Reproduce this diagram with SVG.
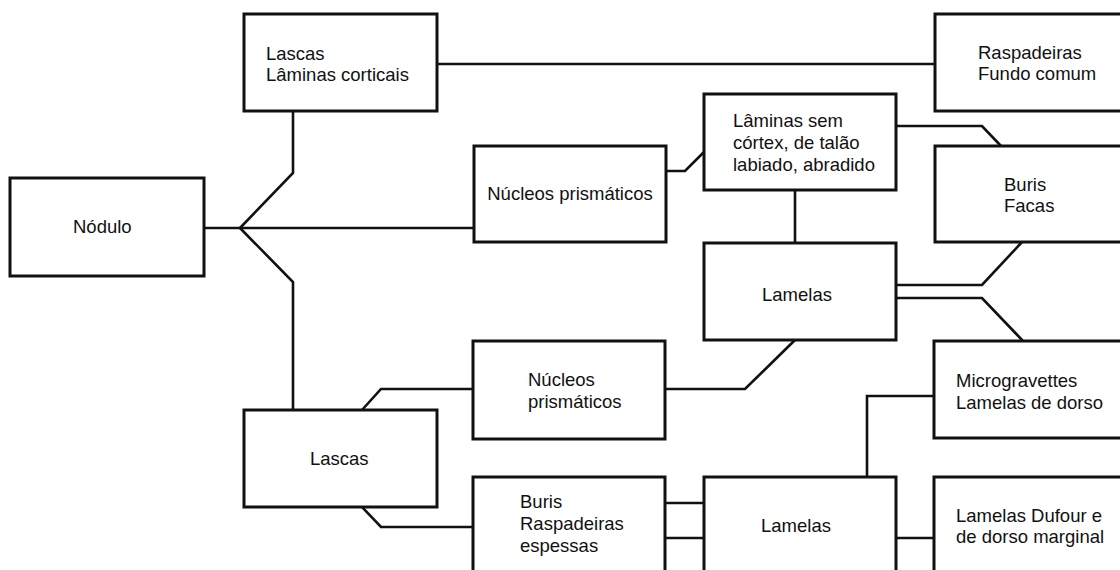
<svg xmlns="http://www.w3.org/2000/svg" width="1120" height="570" viewBox="0 0 1120 570">
<style>
.box{fill:#fff;stroke:#111;stroke-width:3}
.c{fill:none;stroke:#111;stroke-width:2.6;stroke-linejoin:miter}
text{font-family:"Liberation Sans",Arial,sans-serif;font-size:18.5px;fill:#111}
.m{text-anchor:middle}
</style>
<rect width="1120" height="570" fill="#fff"/>
<g id="connectors">
<path class="c" d="M204,228 H474"/>
<path class="c" d="M240,228 L293,173 V111"/>
<path class="c" d="M240,228 L293,282 V410"/>
<path class="c" d="M437,64 H935"/>
<path class="c" d="M666,171 H685 L704,152"/>
<path class="c" d="M896,126 H982 L1001,146"/>
<path class="c" d="M795,190 V243"/>
<path class="c" d="M896,285 H982 L1022,242"/>
<path class="c" d="M896,298 H982 L1023,341"/>
<path class="c" d="M665,389 H745 L795,340"/>
<path class="c" d="M362,410 L381,389 H473"/>
<path class="c" d="M362,507 L381,527 H473"/>
<path class="c" d="M665,503 H704"/>
<path class="c" d="M665,538 H704"/>
<path class="c" d="M934,396 H867 V478"/>
<path class="c" d="M896,538 H934"/>
</g>
<g id="nodulo"><rect class="box" x="10" y="178" width="194" height="98"/><text x="73" y="233">Nódulo</text></g>
<g id="lascas-corticais"><rect class="box" x="244" y="14" width="193" height="97"/><text x="266" y="60">Lascas</text><text x="266" y="81">Lâminas corticais</text></g>
<g id="raspadeiras"><rect class="box" x="935" y="14" width="200" height="97"/><text x="978" y="59">Raspadeiras</text><text x="978" y="80">Fundo comum</text></g>
<g id="nucleos1"><rect class="box" x="474" y="146" width="192" height="96"/><text class="m" x="570" y="200">Núcleos prismáticos</text></g>
<g id="laminas"><rect class="box" x="704" y="94" width="192" height="96"/><text x="733" y="127">Lâminas sem</text><text x="733" y="149">córtex, de talão</text><text x="733" y="171">labiado, abradido</text></g>
<g id="buris-facas"><rect class="box" x="935" y="146" width="200" height="96"/><text x="1004" y="191">Buris</text><text x="1004" y="212">Facas</text></g>
<g id="lamelas1"><rect class="box" x="704" y="243" width="192" height="97"/><text class="m" x="797" y="301">Lamelas</text></g>
<g id="nucleos2"><rect class="box" x="473" y="341" width="192" height="98"/><text x="528" y="386">Núcleos</text><text x="528" y="408">prismáticos</text></g>
<g id="microgravettes"><rect class="box" x="934" y="341" width="200" height="97"/><text x="956" y="387">Microgravettes</text><text x="956" y="409">Lamelas de dorso</text></g>
<g id="lascas2"><rect class="box" x="244" y="410" width="193" height="97"/><text x="310" y="465">Lascas</text></g>
<g id="buris-raspadeiras"><rect class="box" x="473" y="477" width="192" height="110"/><text x="520" y="508">Buris</text><text x="520" y="530">Raspadeiras</text><text x="520" y="552">espessas</text></g>
<g id="lamelas2"><rect class="box" x="704" y="477" width="192" height="110"/><text class="m" x="796" y="532">Lamelas</text></g>
<g id="dufour"><rect class="box" x="934" y="477" width="200" height="110"/><text x="956" y="522">Lamelas Dufour e</text><text x="956" y="543">de dorso marginal</text></g>
</svg>
